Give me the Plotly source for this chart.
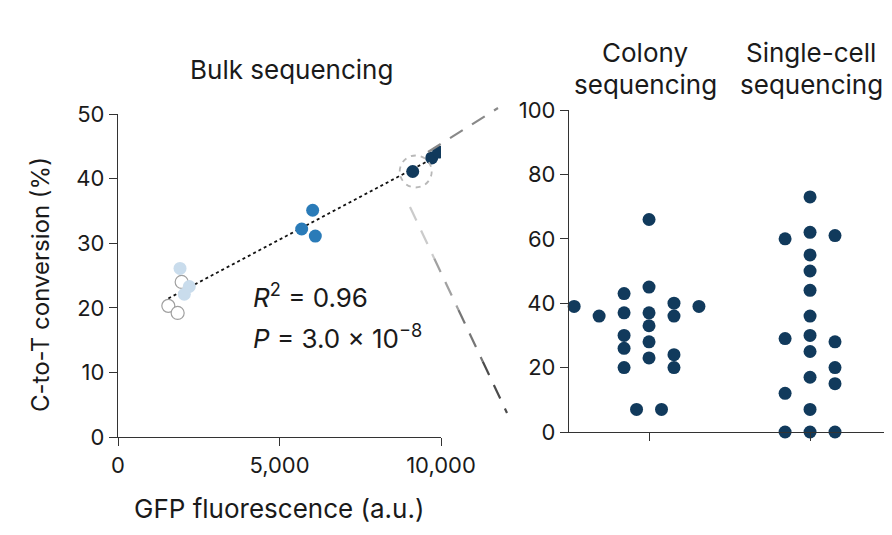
import numpy as np
import plotly.graph_objects as go

# ---------------- data ----------------
# Bulk sequencing: GFP fluorescence (a.u.) vs C-to-T conversion (%)
bulk_open_x = [1971, 1558, 1847]
bulk_open_y = [24.0, 20.3, 19.2]
bulk_light_x = [1920, 2207, 2053]
bulk_light_y = [26.1, 23.3, 22.1]
bulk_mid_x = [6027, 5687, 6109]
bulk_mid_y = [35.1, 32.2, 31.1]
bulk_dark_x = [9124, 9712, 9928]
bulk_dark_y = [41.1, 43.2, 44.1]

r2_text = "<i>R</i><sup>2</sup> = 0.96"
p_text = "<i>P</i> = 3.0 × 10<sup>−8</sup>"

# Colony sequencing values (%) and beeswarm slot of each dot
colony_y = [39, 36, 43, 37, 30, 26, 20, 66, 45, 37, 33, 28, 23, 40, 36, 24, 20, 39, 7, 7]
colony_slot = [-3, -2, -1, -1, -1, -1, -1, 0, 0, 0, 0, 0, 0, 1, 1, 1, 1, 2, -0.5, 0.5]

# Single-cell sequencing values (%) and beeswarm slot of each dot
single_y = [73, 62, 55, 50, 44, 36, 30, 25, 17, 7, 0, 60, 29, 12, 0, 61, 28, 20, 15, 0]
single_slot = [0] * 11 + [-1] * 4 + [1] * 5

group_titles = ["Colony", "Single-cell"]
left_yticks = [0, 10, 20, 30, 40, 50]
left_xticks = [0, 5000, 10000]
left_xticklabels = ["0", "5,000", "10,000"]
right_yticks = [0, 20, 40, 60, 80, 100]

# ---------------- styling / geometry ----------------
FONT = "Inter"
TXT = "#1a1a1a"
NAVY = "#113a5c"
MID = "#2a7bb8"
LIGHT = "#c9dcec"
AX = "#333333"
SLOT_W = 0.155
MS = 13

W, H, OFF = 876, 519, 8  # page body margin of 8px around the figure


def px(X):
    return (X - OFF) / W


def py(Y):
    return 1 - (Y - OFF) / H


fig = go.Figure()

# regression line computed from bulk data
all_x = np.array(bulk_open_x + bulk_light_x + bulk_mid_x + bulk_dark_x, dtype=float)
all_y = np.array(bulk_open_y + bulk_light_y + bulk_mid_y + bulk_dark_y, dtype=float)
slope, intercept = np.polyfit(all_x, all_y, 1)
fx = np.array([all_x.min(), all_x.max()])
fig.add_trace(go.Scatter(x=fx, y=slope * fx + intercept, mode="lines",
                         line=dict(color="#111111", width=1.8, dash="dot"),
                         xaxis="x", yaxis="y", showlegend=False, hoverinfo="skip"))

mk = dict(size=MS)
fig.add_trace(go.Scatter(x=bulk_open_x, y=bulk_open_y, mode="markers",
                         marker=dict(color="white", line=dict(color="#a0a0a0", width=1.2), **mk),
                         xaxis="x", yaxis="y", showlegend=False))
fig.add_trace(go.Scatter(x=bulk_light_x, y=bulk_light_y, mode="markers",
                         marker=dict(color=LIGHT, line=dict(width=0), **mk),
                         xaxis="x", yaxis="y", showlegend=False))
fig.add_trace(go.Scatter(x=bulk_mid_x, y=bulk_mid_y, mode="markers",
                         marker=dict(color=MID, line=dict(width=0), **mk),
                         xaxis="x", yaxis="y", showlegend=False))
fig.add_trace(go.Scatter(x=bulk_dark_x, y=bulk_dark_y, mode="markers",
                         marker=dict(color=NAVY, line=dict(width=0), **mk),
                         xaxis="x", yaxis="y", showlegend=False))

# swarm plots
cx = [0 + s * SLOT_W for s in colony_slot]
sx = [1 + s * SLOT_W for s in single_slot]
fig.add_trace(go.Scatter(x=cx, y=colony_y, mode="markers",
                         marker=dict(color=NAVY, line=dict(width=0), **mk),
                         xaxis="x2", yaxis="y2", showlegend=False, cliponaxis=False))
fig.add_trace(go.Scatter(x=sx, y=single_y, mode="markers",
                         marker=dict(color=NAVY, line=dict(width=0), **mk),
                         xaxis="x2", yaxis="y2", showlegend=False, cliponaxis=False))

axis_common = dict(showline=True, linecolor=AX, linewidth=1.3, ticks="outside",
                   ticklen=8, tickwidth=1.3, tickcolor=AX, showgrid=False, zeroline=False,
                   automargin=False,
                   tickfont=dict(family=FONT, size=22, color=TXT))

fig.update_layout(
    width=W, height=H,
    margin=dict(l=0, r=0, t=0, b=0, pad=0),
    paper_bgcolor="white", plot_bgcolor="white",
    font=dict(family=FONT, color=TXT),
    xaxis=dict(domain=[px(118), px(441)], range=[0, 10000],
               tickvals=left_xticks, ticktext=left_xticklabels, **axis_common),
    yaxis=dict(domain=[py(437), py(114)], range=[0, 50],
               tickvals=left_yticks, **axis_common),
    xaxis2=dict(domain=[px(569), 1.0], range=[-0.497, 1.509 - 8 / 161],
                tickvals=[0, 1], showticklabels=False, anchor="y2", **axis_common),
    yaxis2=dict(domain=[py(432), py(110)], range=[0, 100],
                tickvals=right_yticks, anchor="x2", **axis_common),
)

# dashed circle around highlighted point
fig.add_shape(type="circle", xref="x", yref="y", xsizemode="pixel", ysizemode="pixel",
              xanchor=bulk_dark_x[0], yanchor=bulk_dark_y[0],
              x0=-13, x1=19, y0=-16, y1=16,
              line=dict(color="#b8b8b8", width=1.8, dash="5px,5px"))


# zoom connector lines (gradient approximated by segments)
def grad_line(p0, p1, c0, c1, n=6):
    for i in range(n):
        t0, t1 = i / n, (i + 1) / n
        tm = (t0 + t1) / 2
        col = tuple(int(c0[k] + (c1[k] - c0[k]) * tm) for k in range(3))
        fig.add_shape(type="line", xref="paper", yref="paper",
                      x0=px(p0[0] + (p1[0] - p0[0]) * t0), y0=py(p0[1] + (p1[1] - p0[1]) * t0),
                      x1=px(p0[0] + (p1[0] - p0[0]) * t1), y1=py(p0[1] + (p1[1] - p0[1]) * t1),
                      line=dict(color="rgb(%d,%d,%d)" % col, width=2.2, dash="15px,11px"))


grad_line((428, 152), (498, 108), (175, 175, 175), (100, 100, 100), n=1)
grad_line((410, 207), (507, 413), (225, 225, 225), (55, 55, 55), n=4)


def label(text, X, Y, size=26, **kw):
    opts = dict(xanchor="center", yanchor="middle")
    opts.update(kw)
    fig.add_annotation(text=text, xref="paper", yref="paper", x=px(X), y=py(Y),
                       showarrow=False, font=dict(family=FONT, size=size, color=TXT), **opts)


label("Bulk sequencing", 291, 70)
for gx, gt in zip([645, 811], group_titles):
    label(gt, gx, 52)
    label("sequencing", gx, 84)
label("C-to-T conversion (%)", 40, 285, size=24, textangle=-90)
label("GFP fluorescence (a.u.)", 279, 508)
label(r2_text, 251, 296, xanchor="left")
label(p_text, 251, 336, xanchor="left")

fig.write_html("out.html")
